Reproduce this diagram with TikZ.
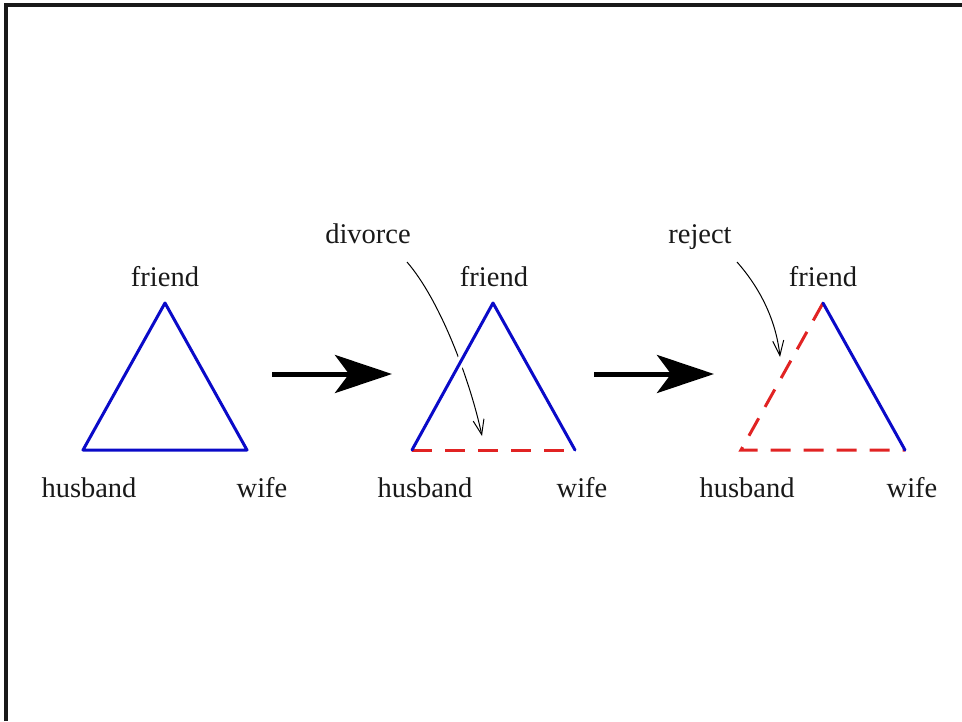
\documentclass[tikz,border=0pt]{standalone}
\usepackage{fontspec}
\setmainfont{Liberation Serif}
\usetikzlibrary{arrows.meta,calc}
\definecolor{edgeblue}{RGB}{10,10,200}
\definecolor{edgered}{RGB}{225,35,35}
\definecolor{txt}{RGB}{25,25,25}
\tikzset{
  lbl/.style={anchor=base, inner sep=0pt, font=\fontsize{28.5}{30}\selectfont, text=txt},
  solidedge/.style={draw=edgeblue, line width=3pt, line cap=round, line join=round},
  brokenedge/.style={draw=edgered, line width=3pt, dash pattern=on 20pt off 13pt},
  bigarrow/.style={line width=5pt, -{Stealth[length=57pt, width=38pt, inset=14pt]}},
  callout/.style={draw=black, line width=1pt, -{Straight Barb[length=15pt, width=11pt]}},
  halo/.style={draw=white, line width=9pt}
}
\begin{document}
\begin{tikzpicture}[x=1pt, y=-1pt]
\useasboundingbox (0,0) rectangle (962,721);
% frame
\draw[line width=3.5pt, draw=black!90] (6,721) -- (6,5) -- (962,5);

% triangle 1
\coordinate (a1) at (165,303);
\coordinate (b1) at (83,450);
\coordinate (c1) at (247,450);
\draw[solidedge] (a1) -- (b1) -- (c1) -- cycle;
\node[lbl] (f1) at (165,286) {friend};
\node[lbl] (h1) at (89,497) {husband};
\node[lbl] (w1) at (262,497) {wife};

% arrow 1
\coordinate (s1) at (272,374);
\coordinate (e1) at (392,374);
\draw[bigarrow] (s1) -- (e1);

% triangle 2
\coordinate (a2) at (493,303);
\coordinate (b2) at (412,450);
\coordinate (c2) at (575,450);
\node[lbl] (f2) at (494,286) {friend};
\node[lbl] (h2) at (425,497) {husband};
\node[lbl] (w2) at (582,497) {wife};
\node[lbl] (dv) at (368,243) {divorce};
\coordinate (dvs) at (407,262);
\coordinate (dve) at (482,436);
\draw[callout] (dvs) .. controls (440,300) and (470,380) .. (dve);
\path[halo] ($(b2)!0.45!(a2)$) -- ($(b2)!0.65!(a2)$);
\draw[brokenedge] (b2) -- (c2);
\draw[solidedge] (b2) -- (a2) -- (c2);

% arrow 2
\coordinate (s2) at (594,374);
\coordinate (e2) at (714,374);
\draw[bigarrow] (s2) -- (e2);

% triangle 3
\coordinate (a3) at (823,303);
\coordinate (b3) at (741,450);
\coordinate (c3) at (905,450);
\draw[brokenedge] (a3) -- (b3) -- (c3);
\draw[solidedge] (a3) -- (c3);
\node[lbl] (f3) at (823,286) {friend};
\node[lbl] (h3) at (747,497) {husband};
\node[lbl] (w3) at (912,497) {wife};
\node[lbl] (rj) at (700,243) {reject};
\coordinate (rjs) at (737,262);
\coordinate (rje) at (780,357);
\draw[callout] (rjs) .. controls (760,288) and (776,320) .. (rje);
\end{tikzpicture}
\end{document}
